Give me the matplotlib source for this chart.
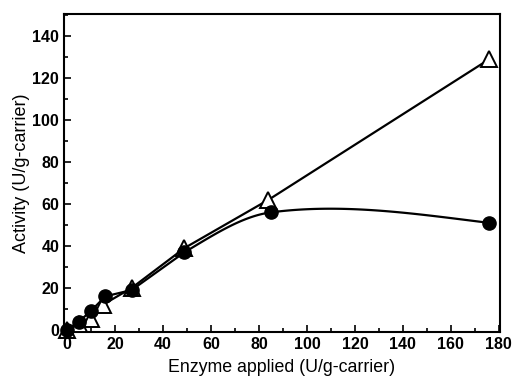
import numpy as np
import matplotlib
matplotlib.use("Agg")
import matplotlib.pyplot as plt
from matplotlib.ticker import MultipleLocator

tri_x = [0, 5, 10, 15, 27, 49, 84, 176]
tri_y = [0, 3, 5, 12, 20, 39, 62, 129]
circ_x = [0, 5, 10, 16, 27, 49, 85, 176]
circ_y = [0, 4, 9, 16, 19, 37, 56, 51]
# slopes of the smooth fitted curve at the last three circle points
curve_slopes = [0.68, 0.15, -0.14]

def hermite(x0, x1, y0, y1, m0, m1, n=100):
    t = np.linspace(0, 1, n)
    h = x1 - x0
    h00 = 2 * t**3 - 3 * t**2 + 1
    h10 = t**3 - 2 * t**2 + t
    h01 = -2 * t**3 + 3 * t**2
    h11 = t**3 - t**2
    return x0 + t * h, h00 * y0 + h10 * h * m0 + h01 * y1 + h11 * h * m1

plt.rcParams['font.family'] = ['Liberation Sans', 'DejaVu Sans']
fig = plt.figure(figsize=(5.13, 3.84), dpi=100)
ax = fig.add_axes([0.1248, 0.1354, 0.85, 0.828])

# circle curve: straight segments at low doses, then smooth
ax.plot(circ_x[:6], circ_y[:6], color='black', lw=1.6, zorder=2)
for k in range(2):
    i = 5 + k
    xs, ys = hermite(circ_x[i], circ_x[i + 1], circ_y[i], circ_y[i + 1],
                     curve_slopes[k], curve_slopes[k + 1])
    ax.plot(xs, ys, color='black', lw=1.6, zorder=2)
ax.plot(tri_x, tri_y, color='black', lw=1.6, zorder=2)

ax.plot(tri_x, tri_y, '^', mfc='white', mec='black', mew=1.4, ms=12, zorder=3, clip_on=False)
ax.plot(circ_x, circ_y, 'o', color='black', ms=9.5, zorder=4, clip_on=False)

ax.set_xlim(-1.2, 180.5)
ax.set_ylim(-1, 150.5)
ax.set_xticks(range(0, 181, 20))
ax.set_yticks(range(0, 141, 20))
ax.xaxis.set_minor_locator(MultipleLocator(10))
ax.yaxis.set_minor_locator(MultipleLocator(10))
ax.tick_params(which='both', direction='in', top=False, right=False, width=1.2)
ax.tick_params(which='major', length=5, labelsize=11.5)
ax.tick_params(which='minor', length=3)
for lab in ax.get_xticklabels() + ax.get_yticklabels():
    lab.set_fontweight('bold')
for s in ax.spines.values():
    s.set_linewidth(1.5)
ax.set_xlabel('Enzyme applied (U/g-carrier)', fontsize=12.8, labelpad=5)
ax.set_ylabel('Activity (U/g-carrier)', fontsize=13, labelpad=2)

fig.savefig('out.png', dpi=100)
